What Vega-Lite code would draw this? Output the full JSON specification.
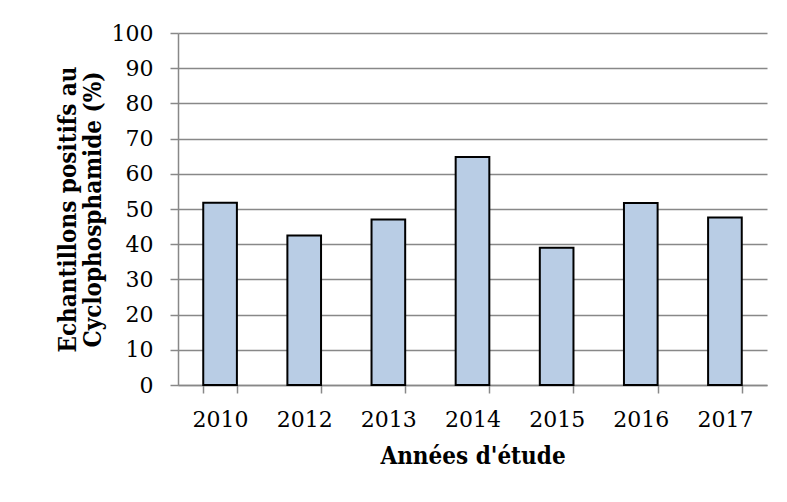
{
  "$schema": "https://vega.github.io/schema/vega-lite/v6.json",
  "width": 589,
  "height": 352,
  "autosize": {"type": "none"},
  "padding": {"left": 178, "top": 33, "right": 20, "bottom": 117},
  "background": "white",
  "data": {
    "values": [
      {"annee": "2010", "pct": 51.8},
      {"annee": "2012", "pct": 42.5},
      {"annee": "2013", "pct": 47.0},
      {"annee": "2014", "pct": 64.8},
      {"annee": "2015", "pct": 39.0},
      {"annee": "2016", "pct": 51.7},
      {"annee": "2017", "pct": 47.6}
    ]
  },
  "mark": {"type": "bar", "fill": "#B9CDE5", "stroke": "#000000", "strokeWidth": 2},
  "encoding": {
    "x": {
      "field": "annee",
      "type": "ordinal",
      "scale": {"paddingInner": 0.6, "paddingOuter": 0.3},
      "axis": {
        "title": "Années d'étude",
        "labelAngle": 0,
        "tickBand": "extent",
        "tickSize": 8,
        "labelPadding": 16,
        "titlePadding": 14
      }
    },
    "y": {
      "field": "pct",
      "type": "quantitative",
      "scale": {"domain": [0, 100], "nice": false},
      "axis": {
        "title": ["Echantillons positifs au", "Cyclophosphamide (%)"],
        "values": [0, 10, 20, 30, 40, 50, 60, 70, 80, 90, 100],
        "tickSize": 8,
        "labelPadding": 17,
        "titlePadding": 6,
        "titleLineHeight": 25,
        "grid": true
      }
    }
  },
  "config": {
    "view": {"stroke": null},
    "axis": {
      "domainColor": "#888888",
      "domainWidth": 1.5,
      "tickColor": "#888888",
      "tickWidth": 1.5,
      "gridColor": "#888888",
      "gridWidth": 1.5,
      "gridOpacity": 1,
      "labelFont": "DejaVu Serif",
      "labelFontSize": 22,
      "labelColor": "#000000",
      "titleFont": "DejaVu Serif Condensed",
      "titleFontWeight": "bold",
      "titleFontSize": 24,
      "titleColor": "#000000"
    }
  }
}
